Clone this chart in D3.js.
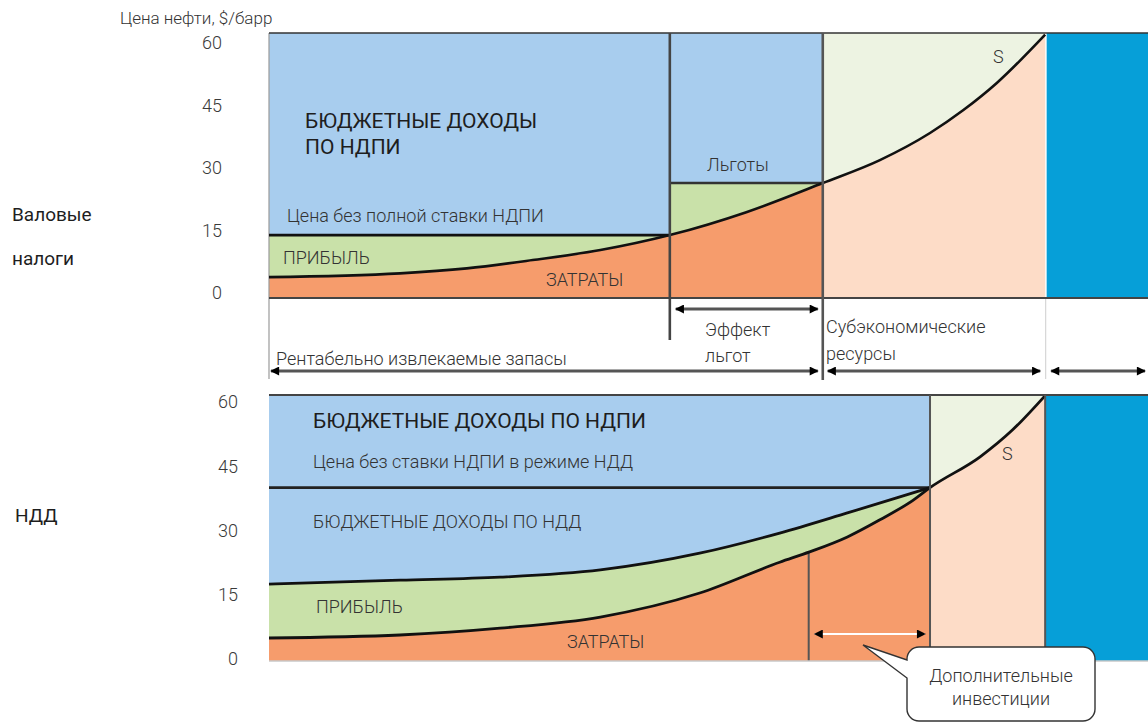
<!DOCTYPE html>
<html>
<head>
<meta charset="utf-8">
<script src="https://cdn.jsdelivr.net/npm/d3@7"></script>
<style>
  body { margin: 0; background: #fff; }
  text { font-family: Roboto, "Liberation Sans", sans-serif; }
</style>
</head>
<body>
<svg id="chart" width="1148" height="723"></svg>
<script>
// Oil price axis, $/bbl
const yTicks = [0, 15, 30, 45, 60];

// Gross taxes regime: reserves axis in % of the resource base
const topCostX   = [0, 14.9, 22.5, 30.0, 37.7, 45.6, 54.3, 63.0];
const topCostY   = [3.8, 4.7, 5.9, 7.9, 10.3, 13.9, 19.4, 26.4];
const topSupplyX = [63.0, 69.5, 75.2, 79.0, 82.8, 88.3];
const topSupplyY = [26.4, 31.9, 38.4, 43.9, 50.4, 62.0];
const topPriceFull   = 13.9;   // price net of the full MET rate
const topPriceRelief = 26.4;   // price net of the relieved MET rate
const topBounds = [0, 45.6, 63.0, 88.3, 100];

// Additional income tax (NDD) regime
const nddPrice   = 40;
const nddTaxX    = [0, 14.9, 26.3, 37.7, 49.0, 58.1, 65.8, 71.4, 75.2];
const nddTaxY    = [17.5, 18.4, 19.1, 20.8, 24.7, 29.4, 34.1, 37.6, 40];
const nddCostX   = [0, 14.9, 26.3, 37.7, 49.0, 58.1, 61.5, 65.8, 69.5, 73.3, 75.2];
const nddCostY   = [4.9, 5.6, 7.2, 9.8, 15.4, 22.6, 25.0, 28.5, 32.5, 37.1, 40];
const nddSupplyX = [75.2, 80.9, 84.6, 88.3];
const nddSupplyY = [40, 47.2, 53.5, 61.5];
const nddBounds  = [0, 61.4, 75.2, 88.3, 100];

const C = {
  blue: "#a8cdee", green: "#c9e1a9", orange: "#f69c6c",
  paleGreen: "#edf3e2", peach: "#fddcc7", deep: "#069fd8",
  line: "#111", frame: "#444", text: "#333", head: "#1e1e1e"
};

const svg = d3.select("#chart");
const x = d3.scaleLinear().domain([0, 100]).range([269, 1148]);

const pts = (xs, ys) => xs.map((v, i) => [v, ys[i]]);

// arrow heads
const defs = svg.append("defs");
function head(id, color) {
  defs.append("marker").attr("id", id)
    .attr("viewBox", "0 0 10 10").attr("refX", 9).attr("refY", 5)
    .attr("markerUnits", "userSpaceOnUse")
    .attr("markerWidth", 11).attr("markerHeight", 9)
    .attr("orient", "auto-start-reverse")
    .append("path").attr("d", "M0,0L10,5L0,10Z").attr("fill", color);
}
head("ah", "#000");

function arrow(g, x1, x2, y, color, w) {
  g.append("line").attr("x1", x1).attr("x2", x2).attr("y1", y).attr("y2", y)
    .attr("stroke", color).attr("stroke-width", w)
    .attr("marker-start", "url(#ah)").attr("marker-end", "url(#ah)");
}

function label(g, str, px, py, opts = {}) {
  return g.append("text").attr("x", px).attr("y", py)
    .attr("font-size", opts.size || 18)
    .attr("font-weight", opts.weight || 300)
    .attr("fill", opts.fill || C.text)
    .attr("text-anchor", opts.anchor || "start")
    .text(str);
}

function yAxis(g, y, at) {
  const ax = d3.axisLeft(y).tickValues(yTicks).tickSize(0).tickPadding(0);
  const a = g.append("g").attr("transform", `translate(${at},0)`).call(ax);
  a.select(".domain").remove();
  a.selectAll("text").attr("font-size", 18).attr("font-weight", 300)
    .attr("fill", "#3a3a3a").attr("font-family", "Roboto, sans-serif");
}

/* ---------------- Gross taxes panel ---------------- */
{
  const top = 33, bottom = 298;
  const y = d3.scaleLinear().domain([0, 60]).range([293, 43]);
  const g = svg.append("g");
  const [b0, b1, b2, b3, b4] = topBounds;

  // budget revenue block
  g.append("rect").attr("x", x(b0)).attr("y", top)
    .attr("width", x(b2) - x(b0)).attr("height", bottom - top).attr("fill", C.blue);
  // profit band up to the net price
  g.append("rect").attr("x", x(b0)).attr("y", y(topPriceFull))
    .attr("width", x(b1) - x(b0)).attr("height", bottom - y(topPriceFull)).attr("fill", C.green);
  g.append("rect").attr("x", x(b1)).attr("y", y(topPriceRelief))
    .attr("width", x(b2) - x(b1)).attr("height", bottom - y(topPriceRelief)).attr("fill", C.green);
  // costs
  const cost = pts(topCostX, topCostY);
  g.append("path").datum(cost)
    .attr("d", d3.area().x(d => x(d[0])).y0(bottom).y1(d => y(d[1])).curve(d3.curveMonotoneX))
    .attr("fill", C.orange);
  // subeconomic resources
  g.append("rect").attr("x", x(b2)).attr("y", top)
    .attr("width", x(b3) - x(b2)).attr("height", bottom - top).attr("fill", C.paleGreen);
  const sup = pts(topSupplyX, topSupplyY);
  g.append("path").datum(sup)
    .attr("d", d3.area().x(d => x(d[0])).y0(bottom).y1(d => Math.max(top, y(d[1]))).curve(d3.curveMonotoneX))
    .attr("fill", C.peach);
  // remaining resources
  g.append("rect").attr("x", x(b3) + 1.5).attr("y", top)
    .attr("width", x(b4) - x(b3) - 1.5).attr("height", bottom - top).attr("fill", C.deep);

  // left axis line
  g.append("line").attr("x1", x(b0)).attr("x2", x(b0)).attr("y1", top).attr("y2", 379)
    .attr("stroke", "#9a9a9a").attr("stroke-width", 1.2);
  g.append("line").attr("x1", x(b3) + 0.5).attr("x2", x(b3) + 0.5).attr("y1", bottom).attr("y2", 379)
    .attr("stroke", "#d6d6d6").attr("stroke-width", 1.2);

  // price lines
  g.append("line").attr("x1", x(b0)).attr("x2", x(b1)).attr("y1", y(topPriceFull)).attr("y2", y(topPriceFull))
    .attr("stroke", C.line).attr("stroke-width", 2.6);
  g.append("line").attr("x1", x(b1)).attr("x2", x(b2)).attr("y1", y(topPriceRelief)).attr("y2", y(topPriceRelief))
    .attr("stroke", "#333").attr("stroke-width", 2.6);

  // cost / supply curve S
  g.append("path").datum(cost.concat(sup.slice(1)))
    .attr("d", d3.line().x(d => x(d[0])).y(d => y(d[1])).curve(d3.curveMonotoneX))
    .attr("fill", "none").attr("stroke", C.line).attr("stroke-width", 2.6);

  // frame
  g.append("line").attr("x1", x(b0)).attr("x2", x(b4)).attr("y1", top).attr("y2", top)
    .attr("stroke", "#333").attr("stroke-width", 1.6);
  g.append("line").attr("x1", x(b0)).attr("x2", x(b4)).attr("y1", bottom).attr("y2", bottom)
    .attr("stroke", C.frame).attr("stroke-width", 2.2);
  g.append("line").attr("x1", x(b1)).attr("x2", x(b1)).attr("y1", top).attr("y2", 340)
    .attr("stroke", C.frame).attr("stroke-width", 2.6);
  g.append("line").attr("x1", x(b2)).attr("x2", x(b2)).attr("y1", top).attr("y2", 380)
    .attr("stroke", "#555").attr("stroke-width", 2.6);

  // range arrows
  arrow(g, x(b1) + 6, x(b2) - 5, 309, "#555", 3);
  arrow(g, x(b0) + 2, x(b2) - 5, 371, "#555", 3);
  arrow(g, x(b2) + 5, x(b3) - 5, 371, "#555", 3);
  arrow(g, x(b3) + 6, x(b4) - 3, 371, "#555", 3);

  yAxis(g, y, 222);

  label(g, "Цена нефти, $/барр", 120, 24, { size: 17 });
  label(g, "Валовые", 12, 221, { size: 19, weight: 400, fill: C.head });
  label(g, "налоги", 12, 265, { size: 19, weight: 400, fill: C.head });

  label(g, "БЮДЖЕТНЫЕ ДОХОДЫ", 305, 128, { size: 21, weight: 400, fill: C.head });
  label(g, "ПО НДПИ", 305, 154, { size: 21, weight: 400, fill: C.head });
  label(g, "Цена  без полной ставки НДПИ", 287, 222);
  label(g, "ПРИБЫЛЬ", 283, 264);
  label(g, "ЗАТРАТЫ", 546, 286);
  label(g, "Льготы", 707, 171);
  label(g, "S", 993, 63);

  label(g, "Эффект", 705, 336);
  label(g, "льгот", 705, 362);
  label(g, "Рентабельно извлекаемые запасы", 276, 365);
  label(g, "Субэкономические", 826, 333);
  label(g, "ресурсы", 826, 360);
}

/* ---------------- NDD panel ---------------- */
{
  const top = 395, bottom = 661;
  const y = d3.scaleLinear().domain([0, 60]).range([659, 402]);
  const g = svg.append("g");
  const [b0, b1, b2, b3, b4] = nddBounds;

  g.append("rect").attr("x", x(b0)).attr("y", top)
    .attr("width", x(b2) - x(b0)).attr("height", bottom - top).attr("fill", C.blue);
  const tax = pts(nddTaxX, nddTaxY);
  g.append("path").datum(tax)
    .attr("d", d3.area().x(d => x(d[0])).y0(bottom).y1(d => y(d[1])).curve(d3.curveMonotoneX))
    .attr("fill", C.green);
  const cost = pts(nddCostX, nddCostY);
  g.append("path").datum(cost)
    .attr("d", d3.area().x(d => x(d[0])).y0(bottom).y1(d => y(d[1])).curve(d3.curveMonotoneX))
    .attr("fill", C.orange);
  g.append("rect").attr("x", x(b2)).attr("y", top)
    .attr("width", x(b3) - x(b2)).attr("height", bottom - top).attr("fill", C.paleGreen);
  const sup = pts(nddSupplyX, nddSupplyY);
  g.append("path").datum(sup)
    .attr("d", d3.area().x(d => x(d[0])).y0(bottom).y1(d => Math.max(top, y(d[1]))).curve(d3.curveMonotoneX))
    .attr("fill", C.peach);
  g.append("rect").attr("x", x(b3)).attr("y", top)
    .attr("width", x(b4) - x(b3)).attr("height", bottom - top).attr("fill", C.deep);

  // price line without MET under NDD
  g.append("line").attr("x1", x(b0)).attr("x2", x(b2)).attr("y1", y(nddPrice)).attr("y2", y(nddPrice))
    .attr("stroke", "#222").attr("stroke-width", 2.6);

  // additional investment boundary
  const costAt = d3.scaleLinear().domain(nddCostX).range(nddCostY);
  g.append("line").attr("x1", x(b1)).attr("x2", x(b1)).attr("y1", y(costAt(b1))).attr("y2", bottom)
    .attr("stroke", "#555").attr("stroke-width", 2);

  g.append("path").datum(tax)
    .attr("d", d3.line().x(d => x(d[0])).y(d => y(d[1])).curve(d3.curveMonotoneX))
    .attr("fill", "none").attr("stroke", C.line).attr("stroke-width", 2.8);
  g.append("path").datum(cost.concat(sup.slice(1)))
    .attr("d", d3.line().x(d => x(d[0])).y(d => y(d[1])).curve(d3.curveMonotoneX))
    .attr("fill", "none").attr("stroke", C.line).attr("stroke-width", 2.8);

  // frame
  g.append("line").attr("x1", x(b0)).attr("x2", x(b4)).attr("y1", top).attr("y2", top)
    .attr("stroke", "#444").attr("stroke-width", 1.8);
  g.append("line").attr("x1", x(b0)).attr("x2", x(b4)).attr("y1", bottom).attr("y2", bottom)
    .attr("stroke", "#c8c8c8").attr("stroke-width", 1.5);
  [b2, b3].forEach(b => g.append("line").attr("x1", x(b)).attr("x2", x(b)).attr("y1", top).attr("y2", bottom)
    .attr("stroke", "#555").attr("stroke-width", 2));

  // span of additional investment
  g.append("line").attr("x1", x(b1) + 6).attr("x2", x(b2) - 5).attr("y1", 634).attr("y2", 634)
    .attr("stroke", "#fff").attr("stroke-width", 2)
    .attr("marker-start", "url(#ah)").attr("marker-end", "url(#ah)");

  yAxis(g, y, 238);

  label(g, "НДД", 15, 522, { size: 19, weight: 400, fill: C.head });
  label(g, "БЮДЖЕТНЫЕ ДОХОДЫ ПО НДПИ", 313, 428, { size: 21, weight: 400, fill: C.head });
  label(g, "Цена без ставки НДПИ в режиме НДД", 313, 468);
  label(g, "БЮДЖЕТНЫЕ ДОХОДЫ ПО НДД", 313, 528);
  label(g, "ПРИБЫЛЬ", 316, 613);
  label(g, "ЗАТРАТЫ", 567, 648);
  label(g, "S", 1002, 460);

  // callout
  const bx0 = 907, bx1 = 1095, by0 = 647, by1 = 721, r = 12;
  const callout = `M${bx0},${by0 + r}A${r},${r} 0 0 1 ${bx0 + r},${by0}H${bx1 - r}` +
    `A${r},${r} 0 0 1 ${bx1},${by0 + r}V${by1 - r}A${r},${r} 0 0 1 ${bx1 - r},${by1}` +
    `H${bx0 + r}A${r},${r} 0 0 1 ${bx0},${by1 - r}V678L863,645L${bx0},660Z`;
  g.append("path").attr("d", callout).attr("fill", "#fff")
    .attr("stroke", "#333").attr("stroke-width", 1.4);
  label(g, "Дополнительные", 1001, 682, { anchor: "middle" });
  label(g, "инвестиции", 1001, 705, { anchor: "middle" });
}
</script>
</body>
</html>
